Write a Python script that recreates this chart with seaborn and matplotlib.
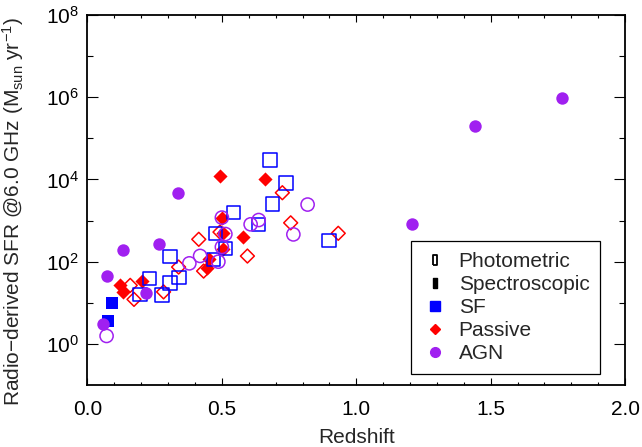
import numpy as np
import pandas as pd
import matplotlib
matplotlib.use("Agg")
import matplotlib.pyplot as plt
from matplotlib.lines import Line2D
from matplotlib.ticker import FixedLocator, FixedFormatter, MultipleLocator, FormatStrFormatter, NullFormatter
import seaborn as sns

# ---- data ----
sf_phot_z   = [0.195, 0.230, 0.278, 0.307, 0.340, 0.307, 0.468, 0.476, 0.514, 0.543, 0.636, 0.679, 0.688, 0.739, 0.899]
sf_phot_sfr = [16.0, 39, 15.5, 30, 41, 132, 113, 490, 208, 1580, 810, 29500, 2520, 8300, 324]

sf_spec_z   = [0.075, 0.090]
sf_spec_sfr = [3.7, 9.7]

pas_phot_z   = [0.159, 0.173, 0.283, 0.339, 0.414, 0.432, 0.595, 0.725, 0.756, 0.933, 0.493]
pas_phot_sfr = [26.5, 12.1, 18.4, 74, 350, 59, 137, 4750, 880, 490, 525]

pas_spec_z   = [0.122, 0.133, 0.202, 0.444, 0.453, 0.493, 0.660, 0.580, 0.499, 0.503, 0.505]
pas_spec_sfr = [27, 18.7, 33, 69, 114, 11800, 10500, 405, 1130, 505, 204]

agn_phot_z   = [0.071, 0.379, 0.419, 0.487, 0.500, 0.500, 0.513, 0.607, 0.637, 0.819, 0.766]
agn_phot_sfr = [1.56, 91, 138, 100, 228, 1180, 470, 810, 1030, 2450, 460]

agn_spec_z   = [0.059, 0.074, 0.133, 0.218, 0.267, 0.338, 1.209, 1.443, 1.767]
agn_spec_sfr = [3.0, 45, 187, 17.7, 270, 4750, 835, 2.0e5, 9.5e5]

ytick_vals   = [1e0, 1e2, 1e4, 1e6, 1e8]
ytick_labels = ["10$^{0}$", "10$^{2}$", "10$^{4}$", "10$^{6}$", "10$^{8}$"]
legend_labels = ["Photometric", "Spectroscopic", "SF", "Passive", "AGN"]

BLUE = "#0000ff"
RED = "#ff0000"
PURPLE = "#a020f0"

sns.set_style("ticks")
plt.rcParams["font.family"] = ["Liberation Sans", "DejaVu Sans"]
plt.rcParams["mathtext.fontset"] = "custom"
plt.rcParams["mathtext.rm"] = "Liberation Sans"
plt.rcParams["mathtext.it"] = "Liberation Sans:italic"
plt.rcParams["mathtext.default"] = "regular"

fig = plt.figure(figsize=(6.42, 4.47), dpi=100)
ax = fig.add_axes([87.5 / 642, 1 - 385 / 447, (625 - 87.5) / 642, (385 - 15) / 447])

def frame(z, s, cls, kind):
    return pd.DataFrame({"z": z, "sfr": s, "cls": cls, "kind": kind})

df = pd.concat([
    frame(pas_phot_z, pas_phot_sfr, "Passive", "Photometric"),
    frame(pas_spec_z, pas_spec_sfr, "Passive", "Spectroscopic"),
    frame(sf_phot_z, sf_phot_sfr, "SF", "Photometric"),
    frame(sf_spec_z, sf_spec_sfr, "SF", "Spectroscopic"),
    frame(agn_phot_z, agn_phot_sfr, "AGN", "Photometric"),
    frame(agn_spec_z, agn_spec_sfr, "AGN", "Spectroscopic"),
], ignore_index=True)

style = {
    ("Passive", "Photometric"): dict(marker="D", s=50, color=RED, facecolor="none", edgecolor=RED, linewidth=1.1),
    ("Passive", "Spectroscopic"): dict(marker="D", s=52, color=RED, edgecolor=RED, linewidth=0),
    ("SF", "Photometric"): dict(marker="s", s=95, color=BLUE, facecolor="none", edgecolor=BLUE, linewidth=1.1),
    ("SF", "Spectroscopic"): dict(marker="s", s=65, color=BLUE, edgecolor=BLUE, linewidth=0),
    ("AGN", "Photometric"): dict(marker="o", s=90, color=PURPLE, facecolor="none", edgecolor=PURPLE, linewidth=1.1),
    ("AGN", "Spectroscopic"): dict(marker="o", s=80, color=PURPLE, edgecolor=PURPLE, linewidth=0),
}

for (cls, kind), kw in style.items():
    sub = df[(df["cls"] == cls) & (df["kind"] == kind)]
    sns.scatterplot(data=sub, x="z", y="sfr", ax=ax, legend=False, zorder=3, **kw)

ax.set_yscale("log")
ax.set_xlim(0, 2.0)
ax.set_ylim(0.1, 1e8)

ax.xaxis.set_major_locator(MultipleLocator(0.5))
ax.xaxis.set_minor_locator(MultipleLocator(0.1))
ax.xaxis.set_major_formatter(FormatStrFormatter("%.1f"))

ax.yaxis.set_major_locator(FixedLocator(ytick_vals))
ax.yaxis.set_major_formatter(FixedFormatter(ytick_labels))
ax.yaxis.set_minor_locator(FixedLocator([1e1, 1e3, 1e5, 1e7]))
ax.yaxis.set_minor_formatter(NullFormatter())

ax.tick_params(axis="both", which="both", direction="in", top=True, right=True,
               labelsize=15, width=0.8, color="black", labelcolor="black")
ax.tick_params(axis="y", which="major", length=8, pad=6)
ax.tick_params(axis="y", which="minor", length=4.5)
ax.tick_params(axis="x", which="major", length=5, pad=11)
ax.tick_params(axis="x", which="minor", length=2.5)
for sp in ax.spines.values():
    sp.set_linewidth(1.3)
    sp.set_color("black")

ax.set_xlabel("Redshift", fontsize=15, labelpad=6)
ax.set_ylabel("Radio\u2212derived SFR @6.0 GHz (M$_{\\rm sun}$ yr$^{-1}$)", fontsize=15)
ax.yaxis.set_label_coords(-0.115, 0.47)

rect = [(-0.45, -1), (0.45, -1), (0.45, 1), (-0.45, 1), (-0.45, -1)]
handles = [
    Line2D([], [], linestyle="none", marker=rect, markersize=7, markerfacecolor="none", markeredgecolor="black", markeredgewidth=1.3),
    Line2D([], [], linestyle="none", marker=rect, markersize=7, markerfacecolor="black", markeredgecolor="black"),
    Line2D([], [], linestyle="none", marker="s", markersize=6.5, markerfacecolor=BLUE, markeredgecolor=BLUE),
    Line2D([], [], linestyle="none", marker="D", markersize=5, markerfacecolor=RED, markeredgecolor=RED),
    Line2D([], [], linestyle="none", marker="o", markersize=7, markerfacecolor=PURPLE, markeredgecolor=PURPLE),
]
leg = ax.legend(handles, legend_labels, loc="lower right", bbox_to_anchor=(0.953, 0.030),
                fontsize=15, frameon=True, fancybox=False, edgecolor="black", framealpha=1,
                handlelength=1.3, handletextpad=0.5, labelspacing=0.2, borderpad=0.5,
                borderaxespad=0)
leg.get_frame().set_linewidth(0.9)
leg.set_zorder(5)

fig.savefig("out.png", dpi=100)
